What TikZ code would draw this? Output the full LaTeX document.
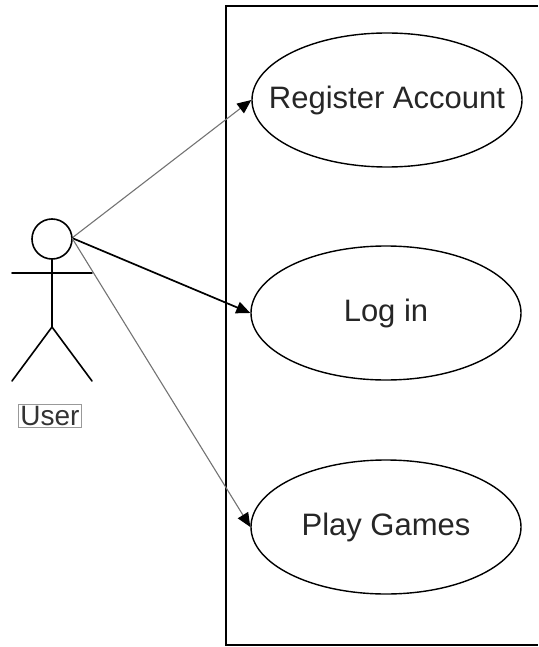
\documentclass[tikz,border=0pt]{standalone}
\usepackage{fontspec}
\setmainfont{Liberation Sans}
\usetikzlibrary{shapes.geometric,arrows.meta}
\begin{document}
\begin{tikzpicture}[x=1pt,y=-1pt,
  usecase/.style={draw=black,line width=1.4pt,ellipse,minimum width=270pt,minimum height=134pt,inner sep=0pt,font=\fontsize{31}{36}\selectfont,text=black!85},
  conn/.style={-{Triangle[length=14pt,width=12pt]},line width=1.7pt},
  thinconn/.style={draw=black!55,line width=1.1pt,arrows={-{Triangle[length=14pt,width=12pt,fill=black,color=black]}}},
  actorline/.style={line width=1.6pt,line cap=round}]
\useasboundingbox (0,0) rectangle (538,647);
% system boundary
\draw[line width=1.9pt] (538,6) -- (226,6) -- (226,645) -- (538,645);
% use cases
\node[usecase] (reg) at (387,100) {\makebox[0pt]{Register Account}};
\node[usecase] (log) at (386,313) {\makebox[0pt]{Log in}};
\node[usecase] (play) at (386,527) {\makebox[0pt]{Play Games}};
% actor
\node[draw,circle,line width=1.6pt,minimum size=40pt,inner sep=0pt] (head) at (52,239) {};
\coordinate (hip) at (52,327);
\draw[actorline] (head.south) -- (hip);
\draw[actorline] (12,273) -- (92,273);
\draw[actorline] (hip) -- (12,381);
\draw[actorline] (hip) -- (92,381);
\node[draw=black!40,line width=0.8pt,inner sep=2pt,font=\fontsize{28}{30}\selectfont,text=black!80] (lbl) at (50,416) {User};
% connectors
\coordinate (src) at (72,238);
\draw[thinconn] (src) -- (reg.west);
\draw[conn] (src) -- (log.west);
\draw[thinconn] (src) -- (play.west);
\end{tikzpicture}
\end{document}
